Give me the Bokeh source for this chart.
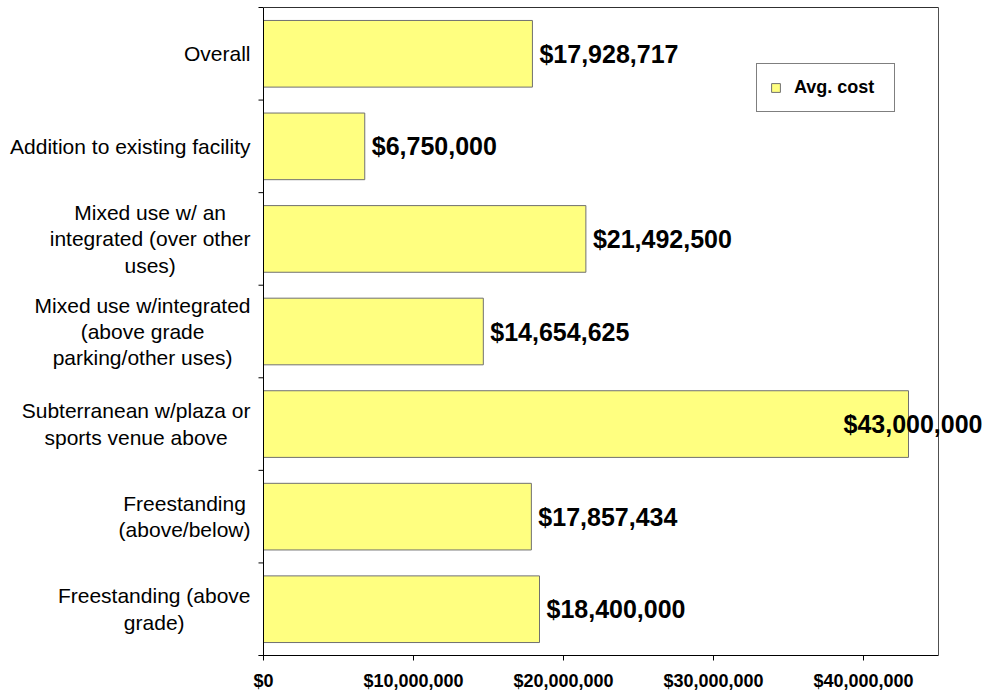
import glob
from bokeh.plotting import figure
from bokeh.models import (ColumnDataSource, LabelSet, FixedTicker, NumeralTickFormatter,
                          Range1d, Legend, LegendItem)
from bokeh.core.properties import value
from bokeh.embed import file_html
from bokeh.resources import INLINE
import numpy as np

# Data (bottom to top)
categories = [
    "Freestanding (above\ngrade)",
    "Freestanding\n(above/below)",
    "Subterranean w/plaza or\nsports venue above",
    "Mixed use w/integrated\n(above grade\nparking/other uses)",
    "Mixed use w/ an\nintegrated (over other\nuses)",
    "Addition to existing facility",
    "Overall",
]
avg_cost = [18400000, 17857434, 43000000, 14654625, 21492500, 6750000, 17928717]
value_labels = ["$18,400,000", "$17,857,434", "$43,000,000", "$14,654,625",
                "$21,492,500", "$6,750,000", "$17,928,717"]
label_offsets = [7, 7, -65, 7, 7, 7, 7]
x_ticks = [0, 10000000, 20000000, 30000000, 40000000]
x_max = 45000000

FONT = "Liberation Sans"
CAT_SIZE = 21

W, H = 990, 694
LEFT, TOP, RIGHT, BOTTOM = 263, 7, 938, 655   # plot-area edges in px
LABEL_RIGHT = 250                              # right edge of category label blocks
TICK = 5

n = len(categories)
centers = list(np.arange(n) + 0.5)
dpp = x_max / (RIGHT - LEFT)                   # data units per pixel (x)

# measure label widths to place right-aligned blocks of centred lines
def measure(line):
    try:
        from PIL import ImageFont
        paths = glob.glob("/usr/share/fonts/**/LiberationSans-Regular.ttf", recursive=True)
        if paths:
            f = ImageFont.truetype(paths[0], CAT_SIZE)
            return f.getlength(line)
    except Exception:
        pass
    return len(line) * 0.5 * CAT_SIZE

cat_offsets = [LABEL_RIGHT - LEFT - max(measure(l) for l in c.split("\n")) / 2.0
               for c in categories]

x_start = -LEFT * dpp
x_end = (W - LEFT) * dpp
y_end = n * (1 + 1.0 / (BOTTOM - TOP))

src = ColumnDataSource(dict(y=centers, x=avg_cost, lab=value_labels, off=label_offsets))
cat_src = ColumnDataSource(dict(y=centers, x=[0] * n, cat=categories, off=cat_offsets))

p = figure(width=W, height=H, output_backend="svg", toolbar_location=None,
           x_range=Range1d(x_start, x_end), y_range=Range1d(0, y_end),
           y_axis_location=None,
           min_border_left=0, min_border_right=0, min_border_top=TOP - 1,
           min_border_bottom=H - BOTTOM)

r = p.hbar(y="y", right="x", left=0, height=0.72, source=src,
           fill_color="#FFFF80", line_color="#707070", line_width=1)

# category labels (centred lines, block right-aligned beside the axis)
p.text(x="x", y="y", text="cat", source=cat_src, x_offset="off",
       text_align="center", text_baseline="middle", text_font=value(FONT),
       text_font_size=f"{CAT_SIZE}px", text_color="black", text_line_height=1.15)

# y axis line, boundary ticks, plot-area border
boundaries = list(range(n + 1))
p.segment(x0=[0], y0=[0], x1=[0], y1=[n], line_color="black", line_width=1)
p.segment(x0=[-TICK * dpp] * (n + 1), y0=boundaries, x1=[0] * (n + 1), y1=boundaries,
          line_color="black", line_width=1)
p.segment(x0=[0], y0=[n], x1=[x_max], y1=[n], line_color="#303030", line_width=1)
p.segment(x0=[x_max], y0=[0], x1=[x_max], y1=[n], line_color="#505050", line_width=1)

labels = LabelSet(x="x", y="y", text="lab", source=src, x_offset="off",
                  text_baseline="middle", text_align="left",
                  text_font=value(FONT), text_font_style="bold", text_font_size="25px",
                  text_color="black")
p.add_layout(labels)

p.xgrid.visible = False
p.ygrid.visible = False
p.background_fill_color = "white"
p.border_fill_color = "white"
p.outline_line_color = None

# x axis
xa = p.xaxis[0]
xa.ticker = FixedTicker(ticks=x_ticks)
xa.bounds = (-TICK * dpp, x_max)
xa.formatter = NumeralTickFormatter(format="$0,0")
xa.major_tick_in = 0
xa.major_tick_out = TICK
xa.minor_tick_line_color = None
xa.axis_line_color = "black"
xa.major_tick_line_color = "black"
xa.major_label_text_font = FONT
xa.major_label_text_font_style = "bold"
xa.major_label_text_font_size = "18px"
xa.major_label_text_color = "black"
xa.major_label_standoff = 10

legend = Legend(items=[LegendItem(label="Avg. cost", renderers=[r])],
                location=(756, BOTTOM - 112), border_line_color="black",
                border_line_width=1, padding=13, margin=0, spacing=0,
                glyph_width=11, glyph_height=11, label_standoff=13, label_width=87,
                label_text_font=FONT, label_text_font_style="bold",
                label_text_font_size="18px", label_text_color="black",
                background_fill_alpha=1)
p.add_layout(legend)

open("out.html", "w").write(file_html(p, INLINE))
